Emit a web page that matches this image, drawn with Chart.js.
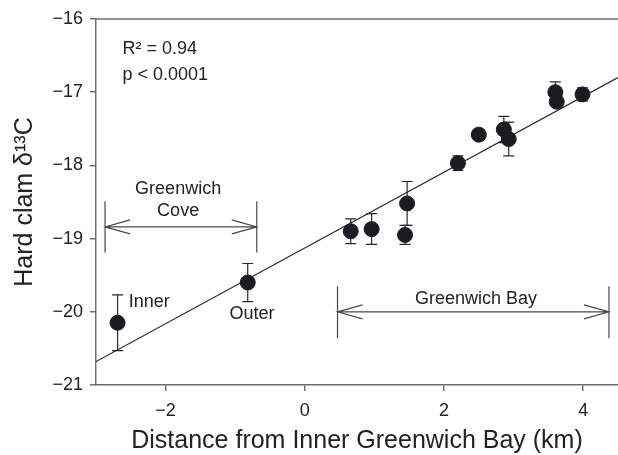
<!DOCTYPE html>
<html>
<head>
<meta charset="utf-8">
<script src="https://cdn.jsdelivr.net/npm/chart.js@4.4.1/dist/chart.umd.min.js"></script>
<style>
  html, body { margin: 0; padding: 0; background: #fff; overflow: hidden; }
  #wrap { width: 618px; height: 455px; position: relative; }
</style>
</head>
<body>
<div id="wrap"><canvas id="c"></canvas></div>
<script>
// ---- data ----
const distKm   = [-2.69, -0.82, 0.66, 0.96, 1.44, 1.47, 2.20, 2.50, 2.86, 2.93, 3.60, 3.62, 3.99];
const d13C     = [-20.15, -19.60, -18.90, -18.87, -18.95, -18.52, -17.97, -17.58, -17.51, -17.64, -17.00, -17.13, -17.03];
const d13CErr  = [0.38, 0.26, 0.17, 0.21, 0.13, 0.30, 0.10, 0.05, 0.18, 0.23, 0.14, 0.05, 0.09];
const fitX     = [-3, 4.5];
const fitY     = [-20.68, -16.80];
const xTicks   = [-2, 0, 2, 4];
const yTicks   = [-21, -20, -19, -18, -17, -16];
const statsText = ['R² = 0.94', 'p < 0.0001'];
const coveLabel = ['Greenwich', 'Cove'];
const bayLabel  = 'Greenwich Bay';
const siteLabels = ['Inner', 'Outer'];

const FONT = "'Liberation Sans', Arial, Helvetica, sans-serif";
const fmt = v => (v < 0 ? '\u2212' + Math.abs(v) : String(v));

const extras = {
  id: 'extras',
  afterLayout(chart) {
    // let the plot area run to the right edge of the canvas, as in the reference
    const ca = chart.chartArea, x = chart.scales.x;
    ca.right = chart.width;
    ca.width = ca.right - ca.left;
    x.right = chart.width;
    x.width = x.right - x.left;
    x.configure();
  },
  beforeDatasetsDraw(chart) {
    const {ctx, scales: {x, y}} = chart;
    ctx.save();
    ctx.strokeStyle = '#2a2a2a';
    ctx.lineWidth = 1.2;
    for (let i = 0; i < distKm.length; i++) {
      const px = x.getPixelForValue(distKm[i]);
      const y1 = y.getPixelForValue(d13C[i] + d13CErr[i]);
      const y2 = y.getPixelForValue(d13C[i] - d13CErr[i]);
      ctx.beginPath();
      ctx.moveTo(px, y1); ctx.lineTo(px, y2);
      ctx.moveTo(px - 5.5, y1); ctx.lineTo(px + 5.5, y1);
      ctx.moveTo(px - 5.5, y2); ctx.lineTo(px + 5.5, y2);
      ctx.stroke();
    }
    ctx.restore();
  },
  afterDraw(chart) {
    const {ctx, chartArea: ca, scales: {x, y}} = chart;
    ctx.save();
    ctx.strokeStyle = '#6e6e6e';
    ctx.lineWidth = 1.5;
    ctx.beginPath();
    ctx.moveTo(ca.left, ca.top); ctx.lineTo(ca.right, ca.top);
    ctx.stroke();

    function rangeArrow(x0, x1, yv, yTop, yBot) {
      const a = x.getPixelForValue(x0), b = x.getPixelForValue(x1);
      const py = y.getPixelForValue(yv);
      const t = y.getPixelForValue(yTop), bt = y.getPixelForValue(yBot);
      ctx.strokeStyle = '#4a4a4a';
      ctx.lineWidth = 1.2;
      ctx.beginPath();
      ctx.moveTo(a, t); ctx.lineTo(a, bt);
      ctx.moveTo(b, t); ctx.lineTo(b, bt);
      ctx.moveTo(a, py); ctx.lineTo(b, py);
      ctx.moveTo(a + 25, py - 7); ctx.lineTo(a, py); ctx.lineTo(a + 25, py + 7);
      ctx.moveTo(b - 25, py - 7); ctx.lineTo(b, py); ctx.lineTo(b - 25, py + 7);
      ctx.stroke();
    }
    rangeArrow(-2.87, -0.69, -18.84, -18.49, -19.19);
    rangeArrow(0.47, 4.37, -20.0, -19.65, -20.36);

    ctx.fillStyle = '#222';
    ctx.font = '18px ' + FONT;
    ctx.textBaseline = 'middle';
    ctx.textAlign = 'left';
    ctx.fillText(statsText[0], x.getPixelForValue(-2.62), y.getPixelForValue(-16.41));
    ctx.fillText(statsText[1], x.getPixelForValue(-2.62), y.getPixelForValue(-16.76));
    ctx.textAlign = 'center';
    ctx.fillText(coveLabel[0], x.getPixelForValue(-1.82), y.getPixelForValue(-18.32));
    ctx.fillText(coveLabel[1], x.getPixelForValue(-1.82), y.getPixelForValue(-18.63));
    ctx.fillText(bayLabel, x.getPixelForValue(2.46), y.getPixelForValue(-19.82));
    ctx.textAlign = 'left';
    ctx.fillText(siteLabels[0], x.getPixelForValue(-2.53), y.getPixelForValue(-19.87));
    ctx.textAlign = 'center';
    ctx.fillText(siteLabels[1], x.getPixelForValue(-0.76), y.getPixelForValue(-20.03));
    ctx.restore();
  }
};

new Chart(document.getElementById('c'), {
  data: {
    datasets: [
      {
        type: 'scatter',
        data: distKm.map((v, i) => ({x: v, y: d13C[i]})),
        backgroundColor: '#1c1c20',
        borderColor: '#1c1c20',
        pointRadius: 7.5,
        pointHoverRadius: 7.5,
        order: 0
      },
      {
        type: 'line',
        data: fitX.map((v, i) => ({x: v, y: fitY[i]})),
        borderColor: '#222',
        borderWidth: 1.2,
        pointRadius: 0,
        fill: false,
        order: 1
      }
    ]
  },
  options: {
    responsive: true,
    maintainAspectRatio: false,
    animation: false,
    layout: { padding: { top: 19, right: 0, left: 0, bottom: 0 } },
    plugins: { legend: { display: false }, tooltip: { enabled: false } },
    scales: {
      x: {
        type: 'linear',
        min: -3, max: 4.5,
        afterBuildTicks: s => { s.ticks = xTicks.map(v => ({value: v})); },
        afterFit: s => { s.height = 70; s.paddingLeft = 0; s.paddingRight = 0; },
        grid: { drawOnChartArea: false, drawTicks: true, tickLength: 6, color: '#6e6e6e', lineWidth: 1.5 },
        border: { display: true, color: '#6e6e6e', width: 1.5 },
        ticks: { callback: v => fmt(v), color: '#222', font: { size: 18, family: FONT }, padding: 9, maxRotation: 0 },
        title: { display: true, text: 'Distance from Inner Greenwich Bay (km)', color: '#222',
                 font: { size: 25, family: FONT, lineHeight: 1.1 }, padding: { top: 0, bottom: 0 } }
      },
      y: {
        type: 'linear',
        min: -21, max: -16,
        afterBuildTicks: s => { s.ticks = yTicks.map(v => ({value: v})); },
        afterFit: s => { s.width = 96; s.paddingTop = 0; s.paddingBottom = 0; },
        grid: { drawOnChartArea: false, drawTicks: true, tickLength: 6, color: '#6e6e6e', lineWidth: 1.5 },
        border: { display: true, color: '#6e6e6e', width: 1.5 },
        ticks: { callback: v => fmt(v), color: '#222', font: { size: 18, family: FONT }, padding: 7 },
        title: { display: true, text: 'Hard clam δ¹³C', color: '#222',
                 font: { size: 25, family: FONT }, padding: { top: 10, bottom: 0 } }
      }
    }
  },
  plugins: [extras]
});
</script>
</body>
</html>
